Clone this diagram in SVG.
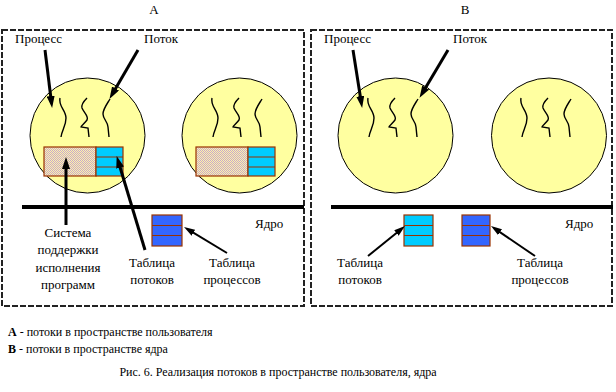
<svg xmlns="http://www.w3.org/2000/svg" width="616" height="392" viewBox="0 0 616 392" font-family="'Liberation Serif', 'DejaVu Serif', serif">
<style>
text{font-family:'Liberation Serif','DejaVu Serif',serif;fill:#000}
.lbl{font-size:13px}
.leg{font-size:12px}
.frame{fill:none;stroke:#222;stroke-width:2;stroke-dasharray:6 2}
.proc{fill:#ffffa0;stroke:#000;stroke-width:1}
.thr{fill:none;stroke:#000;stroke-width:1.4}
.tb{stroke:#993300;stroke-width:1.2}
.cyan{fill:#00ccff}
.blue{fill:#3366ff}
.rts{fill:url(#dots)}
.kern{stroke:#000;stroke-width:4}
.arr{stroke:#000;fill:none;stroke-width:3;marker-end:url(#ah)}
.arr2{stroke:#000;fill:none;stroke-width:2;marker-end:url(#ah2)}
</style>
<defs>
<pattern id="dots" width="2" height="2" patternUnits="userSpaceOnUse">
<rect width="2" height="2" fill="#fff6a8"/>
<rect width="1" height="1" fill="#c8a8cc"/>
<rect x="1" y="1" width="1" height="1" fill="#c8a8cc"/>
</pattern>
<marker id="ah" markerUnits="userSpaceOnUse" markerWidth="12" markerHeight="8" refX="6" refY="4" orient="auto">
<path d="M0,0 L12,4 L0,8 z" fill="#000"/>
</marker>
<marker id="ah2" markerUnits="userSpaceOnUse" markerWidth="11" markerHeight="7" refX="6" refY="3.5" orient="auto">
<path d="M0,0 L11,3.5 L0,7 z" fill="#000"/>
</marker>
<g id="threads">
<path class="thr" d="M60,98 C58,106 66,110 66,118 C66,126 62,130 61,137"/>
<path class="thr" d="M87,98 C83,102 81,105 82,108 C84,113 89,116 87,120 C85,123 81,126 81,127 L88,128 L89,137"/>
<path class="thr" d="M110,99 C107,104 103,109 103,114 C103,119 108,122 108,127 L109,137"/>
</g>
</defs>

<text class="lbl" x="154" y="14" text-anchor="middle">A</text>
<text class="lbl" x="465" y="14" text-anchor="middle">B</text>

<g id="panelA">
<rect class="frame" x="2" y="30" width="302" height="276"/>
</g>
<g id="panelB">
<rect class="frame" x="311" y="30" width="301" height="276"/>
</g>

<g id="processA1">
<circle class="proc" cx="87.5" cy="135.5" r="57.5"/>
<use href="#threads"/>
<rect class="tb rts" x="44" y="147" width="52" height="29"/>
<rect class="tb cyan" x="96" y="147" width="27" height="29"/>
<path class="tb" d="M96,157H123M96,167H123"/>
</g>
<g id="processA2">
<circle class="proc" cx="239.5" cy="135.5" r="57.5"/>
<use href="#threads" transform="translate(152,0)"/>
<rect class="tb rts" x="196" y="147" width="52" height="29"/>
<rect class="tb cyan" x="248" y="147" width="27" height="29"/>
<path class="tb" d="M248,157H275M248,167H275"/>
</g>
<g id="processB1">
<circle class="proc" cx="395.5" cy="135.5" r="57.5"/>
<use href="#threads" transform="translate(308,0)"/>
</g>
<g id="processB2">
<circle class="proc" cx="549" cy="135.5" r="57.5"/>
<use href="#threads" transform="translate(461,0)"/>
</g>

<g id="kernelA">
<line class="kern" x1="22" y1="207" x2="304" y2="207"/>
<text class="lbl" x="255" y="228">Ядро</text>
</g>
<g id="kernelB">
<line class="kern" x1="331" y1="207" x2="613" y2="207"/>
<text class="lbl" x="565" y="228">Ядро</text>
</g>

<g id="procTableA">
<rect class="tb blue" x="152" y="215" width="30" height="31"/>
<path class="tb" d="M152,225.5H182M152,235.5H182"/>
</g>
<g id="thrTableB">
<rect class="tb cyan" x="404" y="215" width="29" height="31"/>
<path class="tb" d="M404,225.5H433M404,235.5H433"/>
</g>
<g id="procTableB">
<rect class="tb blue" x="462" y="215" width="28" height="31"/>
<path class="tb" d="M462,225.5H490M462,235.5H490"/>
</g>

<g id="labels">
<text class="lbl" x="15" y="43">Процесс</text>
<text class="lbl" x="144" y="43">Поток</text>
<text class="lbl" x="324" y="43">Процесс</text>
<text class="lbl" x="453" y="43">Поток</text>
<text class="lbl" text-anchor="middle" x="68" y="237">Система</text>
<text class="lbl" text-anchor="middle" x="68" y="254">поддержки</text>
<text class="lbl" text-anchor="middle" x="68" y="272">исполнения</text>
<text class="lbl" text-anchor="middle" x="68" y="289">программ</text>
<text class="lbl" text-anchor="middle" x="152" y="267">Таблица</text>
<text class="lbl" text-anchor="middle" x="152" y="284">потоков</text>
<text class="lbl" text-anchor="middle" x="232" y="267">Таблица</text>
<text class="lbl" text-anchor="middle" x="232" y="284">процессов</text>
<text class="lbl" text-anchor="middle" x="360" y="267">Таблица</text>
<text class="lbl" text-anchor="middle" x="360" y="284">потоков</text>
<text class="lbl" text-anchor="middle" x="540" y="267">Таблица</text>
<text class="lbl" text-anchor="middle" x="540" y="284">процессов</text>
</g>

<g id="connectors">
<line class="arr" x1="45" y1="50" x2="51.4" y2="102"/>
<line class="arr" x1="138" y1="50" x2="112.5" y2="93.7"/>
<line class="arr" x1="66" y1="225" x2="66" y2="163"/>
<line class="arr" x1="145" y1="250" x2="118.4" y2="161.8"/>
<line class="arr2" x1="227" y1="253" x2="188.3" y2="229.6"/>
<line class="arr" x1="353" y1="50" x2="361.2" y2="102.1"/>
<line class="arr" x1="448" y1="50" x2="422.6" y2="92.7"/>
<line class="arr2" x1="368" y1="256" x2="401.1" y2="229.2"/>
<line class="arr2" x1="535" y1="256" x2="495.1" y2="228.8"/>
</g>

<g id="legend">
<text class="leg" x="8" y="336"><tspan font-weight="bold">A</tspan> - потоки в пространстве пользователя</text>
<text class="leg" x="8" y="353"><tspan font-weight="bold">B</tspan> - потоки в пространстве ядра</text>
<text class="leg" x="278" y="376" text-anchor="middle">Рис. 6. Реализация потоков в пространстве пользователя, ядра</text>
</g>
</svg>
